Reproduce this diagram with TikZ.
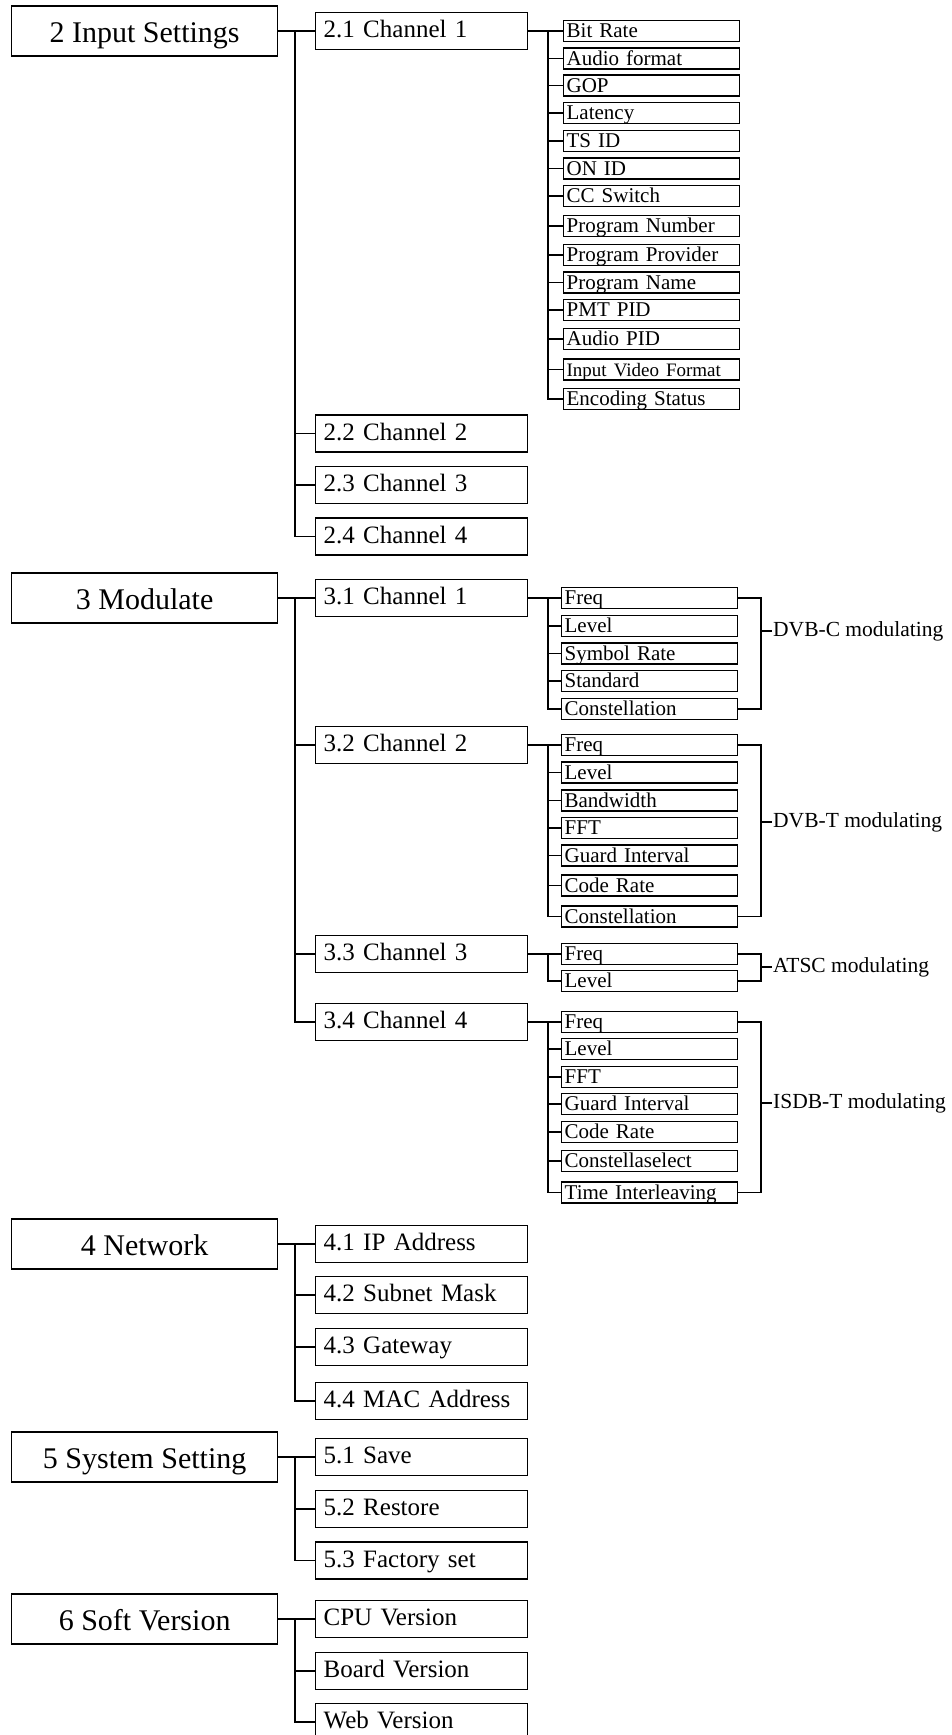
\documentclass[tikz,border=0pt]{standalone}
\usepackage{fontspec}
\setmainfont{Liberation Serif}
\begin{document}
\begin{tikzpicture}[x=1pt,y=-1pt,
 box/.style={draw, line width=1.3pt, inner ysep=0pt},
 topbox/.style={box, anchor=west, minimum width=266pt, text height=36pt, text depth=14pt, inner xsep=0pt, font=\fontsize{30}{30}\selectfont},
 midbox/.style={box, anchor=west, text width=196pt, inner xsep=8pt, align=left, text height=25pt, text depth=12pt, font=\fontsize{25}{25}\selectfont},
 leafbox/.style={box, anchor=west, text width=170pt, inner xsep=3pt, align=left, text height=17pt, text depth=4pt, font=\fontsize{21}{21}\selectfont},
 lbl/.style={anchor=west, inner sep=1pt, font=\fontsize{21.5}{21.5}\selectfont},
 conn/.style={line width=1.3pt}]
\useasboundingbox (0,0) rectangle (952,1735);
\clip (0,0) rectangle (952,1735);

% ---------- Section 2 ----------
\node[topbox] (s2) at (11,31) {2 Input Settings};
\node[midbox] (c21) at (315,31) {2.1 Channel 1};
\node[midbox] (c22) at (315,433.5) {2.2 Channel 2};
\node[midbox] (c23) at (315,485) {2.3 Channel 3};
\node[midbox] (c24) at (315,536.5) {2.4 Channel 4};
\foreach \y/\t [count=\i] in {31/Bit Rate, 58.5/Audio format, 85.5/GOP, 113/Latency, 141/TS ID, 168.5/ON ID, 196/CC Switch, 226/Program Number, 255/Program Provider, 282.5/Program Name, 310/PMT PID, 339/Audio PID, 369.5/{\fontsize{19}{19}\selectfont Input Video Format}, 399/Encoding Status}
  \node[leafbox] (L2-\i) at (563,\y) {\t};
\coordinate (t2) at (295,31);
\draw[conn] (s2.east) -- (c21.west);
\draw[conn] (t2) |- (c24.west);
\foreach \n in {c22,c23} \draw[conn] (t2 |- \n.west) -- (\n.west);
\coordinate (v21) at (548,31);
\draw[conn] (c21.east) -- (L2-1.west);
\draw[conn] (v21) |- (L2-14.west);
\foreach \i in {2,...,13} \draw[conn] (v21 |- L2-\i.west) -- (L2-\i.west);

% ---------- Section 3 ----------
\node[topbox] (s3) at (11,598) {3 Modulate};
\node[midbox] (c31) at (315,598) {3.1 Channel 1};
\node[midbox] (c32) at (315,745) {3.2 Channel 2};
\node[midbox] (c33) at (315,954) {3.3 Channel 3};
\node[midbox] (c34) at (315,1022) {3.4 Channel 4};
\coordinate (t3) at (295,598);
\draw[conn] (s3.east) -- (c31.west);
\draw[conn] (t3) |- (c34.west);
\foreach \n in {c32,c33} \draw[conn] (t3 |- \n.west) -- (\n.west);

% 3.1 leaves
\foreach \y/\t [count=\i] in {598/Freq, 626/Level, 653.5/Symbol Rate, 681/Standard, 709/Constellation}
  \node[leafbox] (A-\i) at (561,\y) {\t};
\coordinate (va) at (548,598);
\draw[conn] (c31.east) -- (A-1.west);
\draw[conn] (va) |- (A-5.west);
\foreach \i in {2,...,4} \draw[conn] (va |- A-\i.west) -- (A-\i.west);
\node[lbl] (dvbc) at (772,631) {DVB-C modulating};
\coordinate (ba) at (761,631);
\draw[conn] (A-1.east) -| (ba) |- (A-5.east);
\draw[conn] (ba) -- (dvbc.west);

% 3.2 leaves
\foreach \y/\t [count=\i] in {745/Freq, 772.5/Level, 800.5/Bandwidth, 828/FFT, 855.5/Guard Interval, 885.5/Code Rate, 916.5/Constellation}
  \node[leafbox] (B-\i) at (561,\y) {\t};
\coordinate (vb) at (548,745);
\draw[conn] (c32.east) -- (B-1.west);
\draw[conn] (vb) |- (B-7.west);
\foreach \i in {2,...,6} \draw[conn] (vb |- B-\i.west) -- (B-\i.west);
\node[lbl] (dvbt) at (772,822) {DVB-T modulating};
\coordinate (bb) at (761,822);
\draw[conn] (B-1.east) -| (bb) |- (B-7.east);
\draw[conn] (bb) -- (dvbt.west);

% 3.3 leaves
\foreach \y/\t [count=\i] in {954/Freq, 981/Level}
  \node[leafbox] (C-\i) at (561,\y) {\t};
\coordinate (vc) at (548,954);
\draw[conn] (c33.east) -- (C-1.west);
\draw[conn] (vc) |- (C-2.west);
\node[lbl] (atsc) at (772,967) {ATSC modulating};
\coordinate (bc) at (761,967);
\draw[conn] (C-1.east) -| (bc) |- (C-2.east);
\draw[conn] (bc) -- (atsc.west);

% 3.4 leaves
\foreach \y/\t [count=\i] in {1022/Freq, 1049/Level, 1077/FFT, 1104/Guard Interval, 1132/Code Rate, 1161/Constellaselect, 1192.5/Time Interleaving}
  \node[leafbox] (D-\i) at (561,\y) {\t};
\coordinate (vd) at (548,1022);
\draw[conn] (c34.east) -- (D-1.west);
\draw[conn] (vd) |- (D-7.west);
\foreach \i in {2,...,6} \draw[conn] (vd |- D-\i.west) -- (D-\i.west);
\node[lbl] (isdb) at (772,1103) {ISDB-T modulating};
\coordinate (bd) at (761,1103);
\draw[conn] (D-1.east) -| (bd) |- (D-7.east);
\draw[conn] (bd) -- (isdb.west);

% ---------- Section 4 ----------
\node[topbox] (s4) at (11,1244) {4 Network};
\node[midbox] (c41) at (315,1244) {4.1 IP Address};
\node[midbox] (c42) at (315,1295) {4.2 Subnet Mask};
\node[midbox] (c43) at (315,1347) {4.3 Gateway};
\node[midbox] (c44) at (315,1401) {4.4 MAC Address};
\coordinate (t4) at (295,1244);
\draw[conn] (s4.east) -- (c41.west);
\draw[conn] (t4) |- (c44.west);
\foreach \n in {c42,c43} \draw[conn] (t4 |- \n.west) -- (\n.west);

% ---------- Section 5 ----------
\node[topbox] (s5) at (11,1457) {5 System Setting};
\node[midbox] (c51) at (315,1457) {5.1 Save};
\node[midbox] (c52) at (315,1509) {5.2 Restore};
\node[midbox] (c53) at (315,1560.5) {5.3 Factory set};
\coordinate (t5) at (295,1457);
\draw[conn] (s5.east) -- (c51.west);
\draw[conn] (t5) |- (c53.west);
\draw[conn] (t5 |- c52.west) -- (c52.west);

% ---------- Section 6 ----------
\node[topbox] (s6) at (11,1619) {6 Soft Version};
\node[midbox] (c61) at (315,1619) {CPU Version};
\node[midbox] (c62) at (315,1671) {Board Version};
\node[midbox] (c63) at (315,1722) {Web Version};
\coordinate (t6) at (295,1619);
\draw[conn] (s6.east) -- (c61.west);
\draw[conn] (t6) |- (c63.west);
\draw[conn] (t6 |- c62.west) -- (c62.west);
\end{tikzpicture}
\end{document}
